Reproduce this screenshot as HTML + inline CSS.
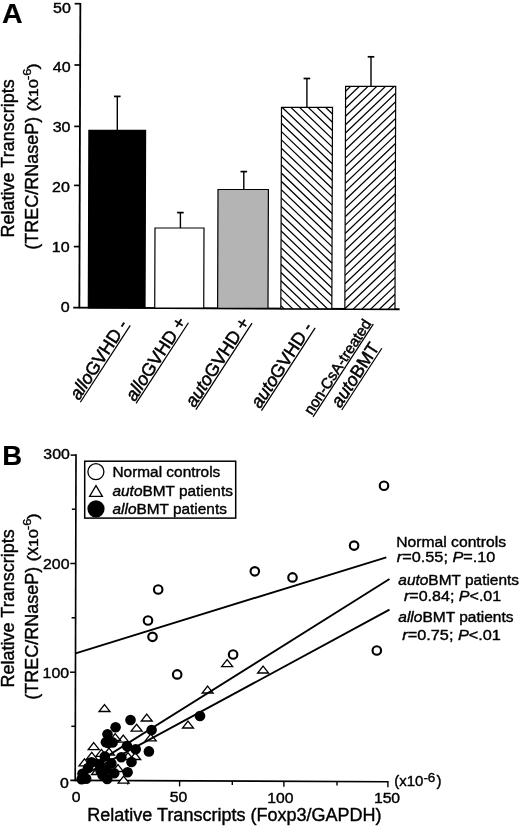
<!DOCTYPE html>
<html><head><meta charset="utf-8"><title>Figure</title>
<style>html,body{margin:0;padding:0;background:#fff;}svg{display:block;will-change:transform;}text{font-family:"Liberation Sans",sans-serif;fill:#000;stroke:#000;stroke-width:0.4px;stroke-linejoin:round;}</style>
</head><body>
<svg width="520" height="826" viewBox="0 0 520 826">
<rect width="520" height="826" fill="#fff"/>
<g id="panelA">
<text transform="translate(2.1 22.7) scale(1.005 1)" font-size="28.4" font-weight="bold" style="stroke-width:0.2px">A</text>
<path d="M80.35 2.9 L79.35 308.2" stroke="#000" stroke-width="1.8" fill="none"/>
<path d="M73.2 307.6 L399.6 309.2" stroke="#000" stroke-width="1.9" fill="none"/>
<path d="M74.65 3.70 H80.35" stroke="#000" stroke-width="1.7"/>
<path d="M74.45 65.00 H80.15" stroke="#000" stroke-width="1.7"/>
<path d="M74.25 126.40 H79.95" stroke="#000" stroke-width="1.7"/>
<path d="M74.05 185.40 H79.75" stroke="#000" stroke-width="1.7"/>
<path d="M73.85 246.60 H79.55" stroke="#000" stroke-width="1.7"/>
<text transform="translate(70.9 12.5) scale(1.07 1)" font-size="15" text-anchor="end">50</text>
<text transform="translate(70.6 72.0) scale(1.07 1)" font-size="15" text-anchor="end">40</text>
<text transform="translate(70.5 132.1) scale(1.07 1)" font-size="15" text-anchor="end">30</text>
<text transform="translate(69.9 192.3) scale(1.07 1)" font-size="15" text-anchor="end">20</text>
<text transform="translate(69.7 252.0) scale(1.07 1)" font-size="15" text-anchor="end">10</text>
<text transform="translate(69.6 312.0) scale(1.07 1)" font-size="15" text-anchor="end">0</text>
<text transform="translate(14.3 237.4) rotate(-90)" font-size="18">Relative Transcripts</text>
<text transform="translate(37.6 249.8) rotate(-90)" font-size="18">(TREC/RNaseP)</text>
<text transform="translate(37.6 111.6) rotate(-90) scale(1.25 1)" font-size="15">(</text>
<text transform="translate(37.6 105.5) rotate(-90)" font-size="17.5">x</text>
<text transform="translate(37.6 97.0) rotate(-90) scale(1.25 1)" font-size="12.8">10</text>
<text transform="translate(30.8 80.0) rotate(-90) scale(1.12 1)" font-size="11.4">-6</text>
<text transform="translate(37.6 69.4) rotate(-90) scale(1.25 1)" font-size="15">)</text>
<defs>
<clipPath id="c4"><rect x="281.5" y="107.4" width="51" height="201.60"/></clipPath>
<clipPath id="c5"><rect x="345.6" y="86.3" width="50.1" height="223.00"/></clipPath>
</defs>
<path d="M117.3 130.3 V96.4" stroke="#000" stroke-width="1.4" fill="none"/><path d="M114.0 96.4 H120.6" stroke="#000" stroke-width="1.7" fill="none"/>
<g transform="translate(0 130.3) skewX(-0.19) translate(0 -130.3)">
<rect x="88.9" y="130.3" width="56.70" height="177.52" fill="#000" stroke="#000" stroke-width="1.2"/>
</g>
<path d="M180.4 228.0 V212.6" stroke="#000" stroke-width="1.4" fill="none"/><path d="M177.1 212.6 H183.70000000000002" stroke="#000" stroke-width="1.7" fill="none"/>
<g transform="translate(0 228.0) skewX(-0.19) translate(0 -228.0)">
<rect x="155.0" y="228.0" width="49.00" height="80.12" fill="#fff" stroke="#000" stroke-width="1.2"/>
</g>
<path d="M243.8 189.5 V171.6" stroke="#000" stroke-width="1.4" fill="none"/><path d="M240.5 171.6 H247.10000000000002" stroke="#000" stroke-width="1.7" fill="none"/>
<g transform="translate(0 189.5) skewX(-0.19) translate(0 -189.5)">
<rect x="218.0" y="189.5" width="50.40" height="118.93" fill="#b4b4b4" stroke="#000" stroke-width="1.2"/>
</g>
<path d="M306.9 107.4 V78.5" stroke="#000" stroke-width="1.4" fill="none"/><path d="M303.59999999999997 78.5 H310.2" stroke="#000" stroke-width="1.7" fill="none"/>
<g transform="translate(0 107.4) skewX(-0.19) translate(0 -107.4)">
<rect x="281.5" y="107.4" width="51.00" height="201.35" fill="#fff"/>
<path clip-path="url(#c4)" d="M281.5 48.68 L332.5 97.39 M281.5 56.97 L332.5 105.68 M281.5 65.26 L332.5 113.97 M281.5 73.55 L332.5 122.26 M281.5 81.84 L332.5 130.55 M281.5 90.13 L332.5 138.83 M281.5 98.42 L332.5 147.12 M281.5 106.71 L332.5 155.41 M281.5 115.00 L332.5 163.70 M281.5 123.29 L332.5 171.99 M281.5 131.58 L332.5 180.28 M281.5 139.87 L332.5 188.57 M281.5 148.16 L332.5 196.86 M281.5 156.45 L332.5 205.15 M281.5 164.74 L332.5 213.44 M281.5 173.03 L332.5 221.73 M281.5 181.32 L332.5 230.02 M281.5 189.61 L332.5 238.31 M281.5 197.90 L332.5 246.60 M281.5 206.19 L332.5 254.89 M281.5 214.48 L332.5 263.18 M281.5 222.77 L332.5 271.47 M281.5 231.06 L332.5 279.76 M281.5 239.35 L332.5 288.05 M281.5 247.64 L332.5 296.34 M281.5 255.93 L332.5 304.63 M281.5 264.22 L332.5 312.92 M281.5 272.51 L332.5 321.21 M281.5 280.80 L332.5 329.50 M281.5 289.09 L332.5 337.79 M281.5 297.38 L332.5 346.08 M281.5 305.67 L332.5 354.37" stroke="#000" stroke-width="1.25" fill="none"/>
<rect x="281.5" y="107.4" width="51.00" height="201.35" fill="none" stroke="#000" stroke-width="1.2"/>
</g>
<path d="M371.0 86.3 V56.8" stroke="#000" stroke-width="1.4" fill="none"/><path d="M367.7 56.8 H374.3" stroke="#000" stroke-width="1.7" fill="none"/>
<g transform="translate(0 86.3) skewX(-0.19) translate(0 -86.3)">
<rect x="345.6" y="86.3" width="50.10" height="222.76" fill="#fff"/>
<path clip-path="url(#c5)" d="M345.6 91.20 L395.7 43.10 M345.6 99.57 L395.7 51.47 M345.6 107.94 L395.7 59.84 M345.6 116.31 L395.7 68.21 M345.6 124.68 L395.7 76.58 M345.6 133.05 L395.7 84.95 M345.6 141.42 L395.7 93.32 M345.6 149.79 L395.7 101.69 M345.6 158.16 L395.7 110.06 M345.6 166.53 L395.7 118.43 M345.6 174.90 L395.7 126.80 M345.6 183.27 L395.7 135.17 M345.6 191.64 L395.7 143.54 M345.6 200.01 L395.7 151.91 M345.6 208.38 L395.7 160.28 M345.6 216.75 L395.7 168.65 M345.6 225.12 L395.7 177.02 M345.6 233.49 L395.7 185.39 M345.6 241.86 L395.7 193.76 M345.6 250.23 L395.7 202.13 M345.6 258.60 L395.7 210.50 M345.6 266.97 L395.7 218.87 M345.6 275.34 L395.7 227.24 M345.6 283.71 L395.7 235.61 M345.6 292.08 L395.7 243.98 M345.6 300.45 L395.7 252.35 M345.6 308.82 L395.7 260.72 M345.6 317.19 L395.7 269.09 M345.6 325.56 L395.7 277.46 M345.6 333.93 L395.7 285.83 M345.6 342.30 L395.7 294.20 M345.6 350.67 L395.7 302.57 M345.6 359.04 L395.7 310.94 M345.6 367.41 L395.7 319.31" stroke="#000" stroke-width="1.25" fill="none"/>
<rect x="345.6" y="86.3" width="50.10" height="222.76" fill="none" stroke="#000" stroke-width="1.2"/>
</g>
<g transform="translate(128.5 324.6) rotate(-57)"><text font-size="18" text-anchor="end" style="stroke-width:0.5px"><tspan font-style="italic">allo</tspan>GVHD -</text><path d="M-91.32 1.89 H0.3" stroke="#000" stroke-width="1.25" fill="none"/></g>
<g transform="translate(186.7 322.0) rotate(-57)"><text font-size="18" text-anchor="end" style="stroke-width:0.5px"><tspan font-style="italic">allo</tspan>GVHD +</text><path d="M-95.85 1.89 H0.3" stroke="#000" stroke-width="1.25" fill="none"/></g>
<g transform="translate(250.3 322.3) rotate(-57)"><text font-size="18" text-anchor="end" style="stroke-width:0.5px"><tspan font-style="italic">auto</tspan>GVHD +</text><path d="M-102.85 1.89 H0.3" stroke="#000" stroke-width="1.25" fill="none"/></g>
<g transform="translate(313.4 327.1) rotate(-57)"><text font-size="18" text-anchor="end" style="stroke-width:0.5px"><tspan font-style="italic">auto</tspan>GVHD -</text><path d="M-98.33 1.89 H0.3" stroke="#000" stroke-width="1.25" fill="none"/></g>
<g transform="translate(371.8 323.5) rotate(-57)"><text font-size="15" text-anchor="end" style="stroke-width:0.5px">non-CsA-treated</text><path d="M-110.35 1.57 H0.3" stroke="#000" stroke-width="1.25" fill="none"/></g>
<g transform="translate(380.1 347.5) rotate(-57)"><text font-size="18" text-anchor="end" style="stroke-width:0.5px"><tspan font-style="italic">auto</tspan>BMT</text><path d="M-73.33 1.89 H0.3" stroke="#000" stroke-width="1.25" fill="none"/></g>
</g>
<g id="panelB">
<text transform="translate(2.2 465.3) scale(1.0 1)" font-size="27.5" font-weight="bold" style="stroke-width:0.2px">B</text>
<path d="M76.0 454.3 L75.2 781.2" stroke="#000" stroke-width="1.65" fill="none"/>
<path d="M70.3 780.3 L388.6 781.75" stroke="#000" stroke-width="1.7" fill="none"/>
<path d="M70.60 455.10 H76.00" stroke="#000" stroke-width="1.5"/>
<path d="M71.87 509.20 H75.87" stroke="#000" stroke-width="1.5"/>
<path d="M70.33 563.50 H75.73" stroke="#000" stroke-width="1.5"/>
<path d="M71.60 617.80 H75.60" stroke="#000" stroke-width="1.5"/>
<path d="M70.07 672.20 H75.47" stroke="#000" stroke-width="1.5"/>
<path d="M71.33 726.30 H75.33" stroke="#000" stroke-width="1.5"/>
<text transform="translate(69.8 458.6) scale(1.06 1)" font-size="15" text-anchor="end">300</text>
<text transform="translate(69.5 568.7) scale(1.06 1)" font-size="15" text-anchor="end">200</text>
<text transform="translate(69.1 678.0) scale(1.06 1)" font-size="15" text-anchor="end">100</text>
<text transform="translate(68.9 788.0) scale(1.06 1)" font-size="15" text-anchor="end">0</text>
<path d="M127.70 780.56 V784.56" stroke="#000" stroke-width="1.4"/>
<path d="M179.60 780.80 V786.40" stroke="#000" stroke-width="1.4"/>
<path d="M232.30 781.04 V785.04" stroke="#000" stroke-width="1.4"/>
<path d="M283.90 781.27 V786.87" stroke="#000" stroke-width="1.4"/>
<path d="M337.00 781.51 V785.51" stroke="#000" stroke-width="1.4"/>
<path d="M387.90 781.75 V787.35" stroke="#000" stroke-width="1.4"/>
<text transform="translate(76.2 802.0) scale(1.05 1)" font-size="15" text-anchor="middle">0</text>
<text transform="translate(178.5 802.3) scale(1.05 1)" font-size="15" text-anchor="middle">50</text>
<text transform="translate(280.3 802.7) scale(1.05 1)" font-size="15" text-anchor="middle">100</text>
<text transform="translate(387.0 802.9) scale(1.05 1)" font-size="15" text-anchor="middle">150</text>
<text x="394.2" y="785.9" font-size="15">(x10<tspan font-size="13.5" dy="-3.9">-6</tspan><tspan dy="3.9" dx="1">)</tspan></text>
<text x="234.4" y="820.7" font-size="18" text-anchor="middle">Relative Transcripts (Foxp3/GAPDH)</text>
<text transform="translate(14.3 687.4) rotate(-90)" font-size="18">Relative Transcripts</text>
<text transform="translate(37.6 699.8) rotate(-90)" font-size="18">(TREC/RNaseP)</text>
<text transform="translate(37.6 561.5999999999999) rotate(-90) scale(1.25 1)" font-size="15">(</text>
<text transform="translate(37.6 555.5) rotate(-90)" font-size="17.5">x</text>
<text transform="translate(37.6 547.0) rotate(-90) scale(1.25 1)" font-size="12.8">10</text>
<text transform="translate(30.8 530.0) rotate(-90) scale(1.12 1)" font-size="11.4">-6</text>
<text transform="translate(37.6 519.4) rotate(-90) scale(1.25 1)" font-size="15">)</text>
<rect x="84.7" y="461.2" width="151.0" height="56.9" fill="#fff" stroke="#000" stroke-width="1.5"/>
<circle cx="95.9" cy="471.7" r="8.0" fill="#fff" stroke="#000" stroke-width="1.3"/>
<path d="M96.0 485.6 L102.4 496.3 H89.6 Z" fill="#fff" stroke="#000" stroke-width="1.3"/>
<circle cx="96.0" cy="508.8" r="8.6" fill="#000"/>
<text x="112.5" y="476.6" font-size="15.4">Normal controls</text>
<text x="112.5" y="495.5" font-size="15.4"><tspan font-style="italic">auto</tspan>BMT patients</text>
<text x="112.5" y="514" font-size="15.4"><tspan font-style="italic">allo</tspan>BMT patients</text>
<text transform="translate(396.3 546.8) scale(1.045 1)" font-size="15">Normal controls</text>
<text transform="translate(396.8 561.6) scale(1.085 1)" font-size="15"><tspan font-style="italic">r</tspan>=0.55; <tspan font-style="italic">P</tspan>=.10</text>
<text transform="translate(398.3 584.5) scale(1.03 1)" font-size="15"><tspan font-style="italic">auto</tspan>BMT patients</text>
<text transform="translate(404.0 601.0) scale(1.07 1)" font-size="15"><tspan font-style="italic">r</tspan>=0.84; <tspan font-style="italic">P</tspan>&lt;.01</text>
<text transform="translate(398.3 622.3) scale(1.035 1)" font-size="15"><tspan font-style="italic">allo</tspan>BMT patients</text>
<text transform="translate(402.3 639.6) scale(1.085 1)" font-size="15"><tspan font-style="italic">r</tspan>=0.75; <tspan font-style="italic">P</tspan>&lt;.01</text>
<path d="M104.50 704.55 L110.00 711.50 H99.00 Z" fill="#fff" stroke="#000" stroke-width="1.3"/>
<path d="M146.75 714.05 L152.25 721.00 H141.25 Z" fill="#fff" stroke="#000" stroke-width="1.3"/>
<path d="M136.60 724.25 L142.10 731.20 H131.10 Z" fill="#fff" stroke="#000" stroke-width="1.3"/>
<path d="M188.00 721.05 L193.50 728.00 H182.50 Z" fill="#fff" stroke="#000" stroke-width="1.3"/>
<path d="M123.30 735.15 L128.80 742.10 H117.80 Z" fill="#fff" stroke="#000" stroke-width="1.3"/>
<path d="M150.70 733.95 L156.20 740.90 H145.20 Z" fill="#fff" stroke="#000" stroke-width="1.3"/>
<path d="M93.70 742.65 L99.20 749.60 H88.20 Z" fill="#fff" stroke="#000" stroke-width="1.3"/>
<path d="M101.40 749.45 L106.90 756.40 H95.90 Z" fill="#fff" stroke="#000" stroke-width="1.3"/>
<path d="M91.80 752.35 L97.30 759.30 H86.30 Z" fill="#fff" stroke="#000" stroke-width="1.3"/>
<path d="M84.50 758.85 L90.00 765.80 H79.00 Z" fill="#fff" stroke="#000" stroke-width="1.3"/>
<path d="M123.60 776.15 L129.10 783.10 H118.10 Z" fill="#fff" stroke="#000" stroke-width="1.3"/>
<path d="M135.20 752.55 L140.70 759.50 H129.70 Z" fill="#fff" stroke="#000" stroke-width="1.3"/>
<path d="M207.60 686.05 L213.10 693.00 H202.10 Z" fill="#fff" stroke="#000" stroke-width="1.3"/>
<path d="M227.15 659.65 L232.65 666.60 H221.65 Z" fill="#fff" stroke="#000" stroke-width="1.3"/>
<path d="M263.10 666.05 L268.60 673.00 H257.60 Z" fill="#fff" stroke="#000" stroke-width="1.3"/>
<path d="M115.20 733.55 L120.70 740.50 H109.70 Z" fill="#fff" stroke="#000" stroke-width="1.3"/>
<path d="M108.00 756.55 L113.50 763.50 H102.50 Z" fill="#fff" stroke="#000" stroke-width="1.3"/>
<path d="M118.00 764.55 L123.50 771.50 H112.50 Z" fill="#fff" stroke="#000" stroke-width="1.3"/>
<path d="M97.00 767.55 L102.50 774.50 H91.50 Z" fill="#fff" stroke="#000" stroke-width="1.3"/>
<path d="M128.00 752.55 L133.50 759.50 H122.50 Z" fill="#fff" stroke="#000" stroke-width="1.3"/>
<path d="M109.00 748.05 L114.50 755.00 H103.50 Z" fill="#fff" stroke="#000" stroke-width="1.3"/>
<path d="M75.6 653.3 L386.3 557.3" stroke="#000" stroke-width="1.9" fill="none"/>
<path d="M78 774.47 L389.5 579.03" stroke="#000" stroke-width="1.9" fill="none"/>
<path d="M78 778.18 L389.5 609.66" stroke="#000" stroke-width="1.9" fill="none"/>
<circle cx="130.5" cy="720" r="5.3" fill="#000"/>
<circle cx="115.6" cy="727.2" r="5.3" fill="#000"/>
<circle cx="107.5" cy="734.3" r="5.3" fill="#000"/>
<circle cx="151.6" cy="730.1" r="5.3" fill="#000"/>
<circle cx="105.9" cy="742.2" r="5.3" fill="#000"/>
<circle cx="112.6" cy="742.4" r="5.3" fill="#000"/>
<circle cx="127" cy="746" r="5.3" fill="#000"/>
<circle cx="135.7" cy="749.3" r="5.3" fill="#000"/>
<circle cx="148.9" cy="751.4" r="5.3" fill="#000"/>
<circle cx="104.8" cy="756.5" r="5.3" fill="#000"/>
<circle cx="121.3" cy="757.2" r="5.3" fill="#000"/>
<circle cx="91.6" cy="762.2" r="5.3" fill="#000"/>
<circle cx="111.4" cy="763.4" r="5.3" fill="#000"/>
<circle cx="131.5" cy="762" r="5.3" fill="#000"/>
<circle cx="88" cy="768" r="5.3" fill="#000"/>
<circle cx="100.5" cy="770.7" r="5.3" fill="#000"/>
<circle cx="127.6" cy="772.2" r="5.3" fill="#000"/>
<circle cx="114.2" cy="773.2" r="5.3" fill="#000"/>
<circle cx="82.5" cy="773.8" r="5.3" fill="#000"/>
<circle cx="102.5" cy="775" r="5.3" fill="#000"/>
<circle cx="81.6" cy="779.3" r="5.3" fill="#000"/>
<circle cx="86.2" cy="778.8" r="5.3" fill="#000"/>
<circle cx="107.2" cy="779" r="5.3" fill="#000"/>
<circle cx="200" cy="716" r="5.3" fill="#000"/>
<circle cx="108.3" cy="743" r="5.3" fill="#000"/>
<circle cx="99.0" cy="764.3" r="5.3" fill="#000"/>
<circle cx="106.3" cy="769.3" r="5.3" fill="#000"/>
<circle cx="384" cy="485.7" r="4.25" fill="#fff" stroke="#000" stroke-width="2.15"/>
<circle cx="354.1" cy="545.6" r="4.25" fill="#fff" stroke="#000" stroke-width="2.15"/>
<circle cx="254.8" cy="571.3" r="4.25" fill="#fff" stroke="#000" stroke-width="2.15"/>
<circle cx="292.5" cy="577.4" r="4.25" fill="#fff" stroke="#000" stroke-width="2.15"/>
<circle cx="158.2" cy="589.5" r="4.25" fill="#fff" stroke="#000" stroke-width="2.15"/>
<circle cx="148" cy="620.5" r="4.25" fill="#fff" stroke="#000" stroke-width="2.15"/>
<circle cx="152.5" cy="636.8" r="4.25" fill="#fff" stroke="#000" stroke-width="2.15"/>
<circle cx="376.8" cy="650.5" r="4.25" fill="#fff" stroke="#000" stroke-width="2.15"/>
<circle cx="233.1" cy="654.5" r="4.25" fill="#fff" stroke="#000" stroke-width="2.15"/>
<circle cx="177.2" cy="674.4" r="4.25" fill="#fff" stroke="#000" stroke-width="2.15"/>
</g>
</svg></body></html>
